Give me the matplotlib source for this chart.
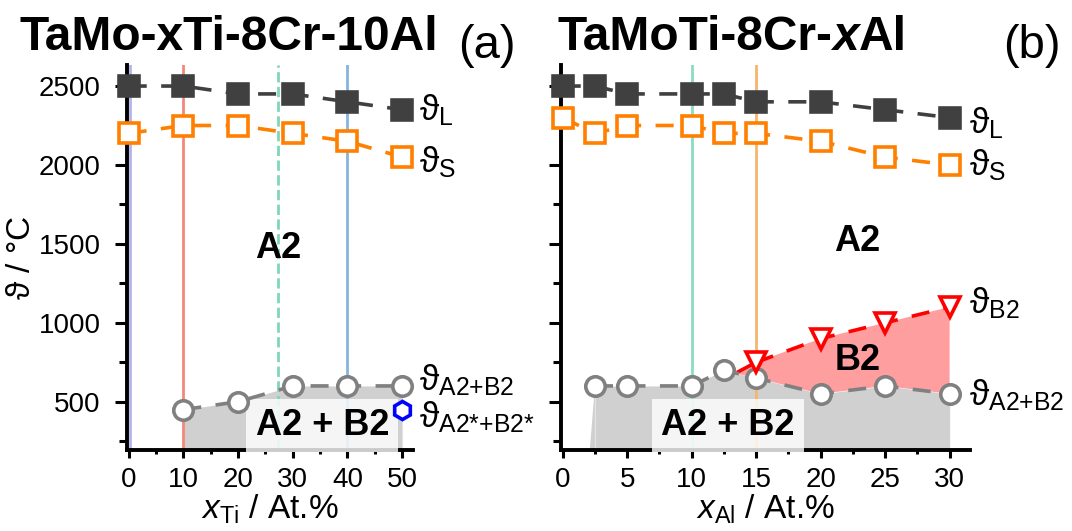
import numpy as np
import matplotlib
matplotlib.use("Agg")
import matplotlib.pyplot as plt
from matplotlib.text import Annotation
from matplotlib.ticker import MultipleLocator

plt.rcParams["font.family"] = ["Liberation Sans", "DejaVu Sans"]
plt.rcParams["mathtext.fontset"] = "custom"
plt.rcParams["mathtext.rm"] = "Liberation Sans"
plt.rcParams["mathtext.it"] = "Liberation Sans:italic"
plt.rcParams["mathtext.bf"] = "Liberation Sans:bold"
plt.rcParams["mathtext.fallback"] = "stixsans"

# (a) TaMo-xTi-8Cr-10Al
ti_x = [0, 10, 20, 30, 40, 50]
ti_liq = [2500, 2500, 2450, 2450, 2400, 2350]
ti_sol = [2200, 2250, 2250, 2200, 2150, 2050]
ti_ab_x = [10, 20, 30, 40, 50]
ti_ab = [450, 500, 600, 600, 600]
ti_star_x = [50]
ti_star = [450]
ti_vlines = [0.3, 10, 27.3, 40]
ti_vcolors = ["#b4b4e6", "#f4877a", "#7fd6b8", "#86b4de"]
ti_vstyles = ["-", "-", "--", "-"]

# (b) TaMoTi-8Cr-xAl
al_x = [0, 2.5, 5, 10, 12.5, 15, 20, 25, 30]
al_liq = [2500, 2500, 2450, 2450, 2450, 2400, 2400, 2350, 2300]
al_sol = [2300, 2200, 2250, 2250, 2200, 2200, 2150, 2050, 2000]
al_ab_x = [2.5, 5, 10, 12.5, 15, 20, 25, 30]
al_ab = [600, 600, 600, 700, 650, 550, 600, 550]
al_b2_x = [15, 20, 25, 30]
al_b2 = [750, 900, 1000, 1100]
al_vlines = [10, 15]
al_vcolors = ["#8cdcc4", "#f7b46a"]

YMIN, YMAX = 194, 2633
DASH = (0, (5, 4))
TH = r"\mathrm{\vartheta}"

fig = plt.figure(figsize=(10.72, 5.31), dpi=100)
ax1 = fig.add_axes([0.1185, 0.1525, 0.2668, 0.725])
ax2 = fig.add_axes([0.5237, 0.1525, 0.3814, 0.725])


def style_axes(ax, xmaj, xmin, labels=True):
    for s in ["top", "right"]:
        ax.spines[s].set_visible(False)
    for s in ["left", "bottom"]:
        ax.spines[s].set_linewidth(2.8)
    ax.set_ylim(YMIN, YMAX)
    ax.xaxis.set_major_locator(MultipleLocator(xmaj))
    ax.xaxis.set_minor_locator(MultipleLocator(xmin))
    ax.yaxis.set_major_locator(MultipleLocator(500))
    ax.yaxis.set_minor_locator(MultipleLocator(250))
    ax.tick_params(axis="y", which="major", direction="out", length=9, width=2.2,
                   labelsize=20, pad=10)
    ax.tick_params(axis="y", which="minor", direction="out", length=5.5, width=2.2)
    ax.tick_params(axis="x", which="major", direction="out", length=6, width=2.2,
                   labelsize=20, pad=6)
    ax.tick_params(axis="x", which="minor", direction="out", length=3, width=2.2)
    if not labels:
        ax.tick_params(axis="y", labelleft=False)


def series(ax, x, y, marker, color, mfc, ms=14, ls=DASH):
    ax.plot(x, y, linestyle=ls, color=color, lw=2.6, marker=marker, ms=ms,
            mfc=mfc, mec=color, mew=2.6, zorder=5, clip_on=False)


box = dict(boxstyle="square,pad=0.25", fc="white", ec="none", alpha=0.8)
lab = dict(fontsize=25.5, ha="left", va="baseline")

# ---- panel (a)
ax1.set_xlim(-0.3, 52)
style_axes(ax1, 10, 5)
ax1.fill_between(ti_ab_x, ti_ab, YMIN, color="#d0d0d0", lw=0, zorder=1)
for xv, c, s in zip(ti_vlines, ti_vcolors, ti_vstyles):
    ax1.axvline(xv, color=c, ls=s, lw=2, zorder=2)
ax1.text(27.4, 1470, "A2", fontsize=26, fontweight="bold", ha="center", va="center", zorder=3)
ax1.text(35.4, 350, "A2 + B2", fontsize=26, fontweight="bold", ha="center", va="center",
         bbox=box, zorder=3)
series(ax1, ti_x, ti_liq, "s", "#404040", "#404040", ms=15)
series(ax1, ti_x, ti_sol, "s", "#ff7f00", "white")
series(ax1, ti_ab_x, ti_ab, "o", "#808080", "white")
series(ax1, ti_star_x, ti_star, "h", "#0000ff", "white", ms=13, ls="none")
ax1.text(53.0, 2285, rf"${TH}_{{\mathrm{{L}}}}$", **lab)
ax1.text(53.0, 1955, rf"${TH}_{{\mathrm{{S}}}}$", **lab)
ax1.text(53.0, 575, rf"${TH}_{{\mathrm{{A2{{+}}B2}}}}$", **lab)
ax1.text(53.0, 335, rf"${TH}_{{\mathrm{{A2{{*}}{{+}}B2{{*}}}}}}$", **lab)
ax1.set_ylabel(rf"${TH}$ / °C", fontsize=24, labelpad=1)
ax1.set_xlabel(r"$x_{\mathrm{Ti}}$ / At.%", fontsize=24, labelpad=0)

# ---- panel (b)
ax2.set_xlim(-0.1, 31.6)
style_axes(ax2, 5, 2.5, labels=False)
ax2.fill_between(al_ab_x, al_ab, YMIN, color="#d0d0d0", lw=0, zorder=1)
ax2.fill([2.1, 2.5, 2.5], [YMIN, al_ab[0], YMIN], color="#d0d0d0", lw=0, zorder=1)
fx = [13.4] + al_b2_x + al_b2_x[::-1]
fy = [680] + al_b2 + [al_ab[al_ab_x.index(v)] for v in al_b2_x[::-1]]
ax2.fill(fx, fy, color="#ff9e9e", lw=0, zorder=1)
for xv, c in zip(al_vlines, al_vcolors):
    ax2.axvline(xv, color=c, lw=2, zorder=2)
ax2.text(22.8, 1515, "A2", fontsize=26, fontweight="bold", ha="center", va="center", zorder=3)
ax2.text(22.85, 763, "B2", fontsize=26, fontweight="bold", ha="center", va="center", zorder=3)
ax2.text(12.8, 350, "A2 + B2", fontsize=26, fontweight="bold", ha="center", va="center",
         bbox=box, zorder=3)
ax2.plot([13.5, 15], [685, 750], color="#ff0000", lw=2.6, ls=DASH, zorder=4)
series(ax2, al_x, al_liq, "s", "#404040", "#404040", ms=15)
series(ax2, al_x, al_sol, "s", "#ff7f00", "white")
series(ax2, al_ab_x, al_ab, "o", "#808080", "white")
series(ax2, al_b2_x, al_b2, "v", "#ff0000", "white", ms=15)
ax2.text(31.5, 2202, rf"${TH}_{{\mathrm{{L}}}}$", **lab)
ax2.text(31.5, 1936, rf"${TH}_{{\mathrm{{S}}}}$", **lab)
ax2.text(31.5, 1062, rf"${TH}_{{\mathrm{{B2}}}}$", **lab)
ax2.text(31.5, 480, rf"${TH}_{{\mathrm{{A2{{+}}B2}}}}$", **lab)
ax2.set_xlabel(r"$x_{\mathrm{Al}}$ / At.%", fontsize=24, labelpad=0)

# ---- titles
base = 1 - 50 / 531
t0 = fig.text(20 / 1072, base, "TaMo-xTi-8Cr-10Al", fontsize=34.5, fontweight="bold", va="baseline")
fig.text(458 / 1072, 1 - 58 / 531, "(a)", fontsize=34, va="baseline")
t1 = fig.text(557 / 1072, base, "TaMoTi-8Cr-", fontsize=34.5, fontweight="bold", va="baseline")
a2 = fig.add_artist(Annotation("x", xy=(1, 0), xycoords=t1, va="bottom", ha="left",
                               fontsize=34.5, fontweight="bold", style="italic"))
fig.add_artist(Annotation("Al", xy=(1, 0), xycoords=a2, va="bottom", ha="left",
                          fontsize=34.5, fontweight="bold"))
fig.text(1003 / 1072, 1 - 58 / 531, "(b)", fontsize=34, va="baseline")

fig.savefig("out.png", dpi=100)
